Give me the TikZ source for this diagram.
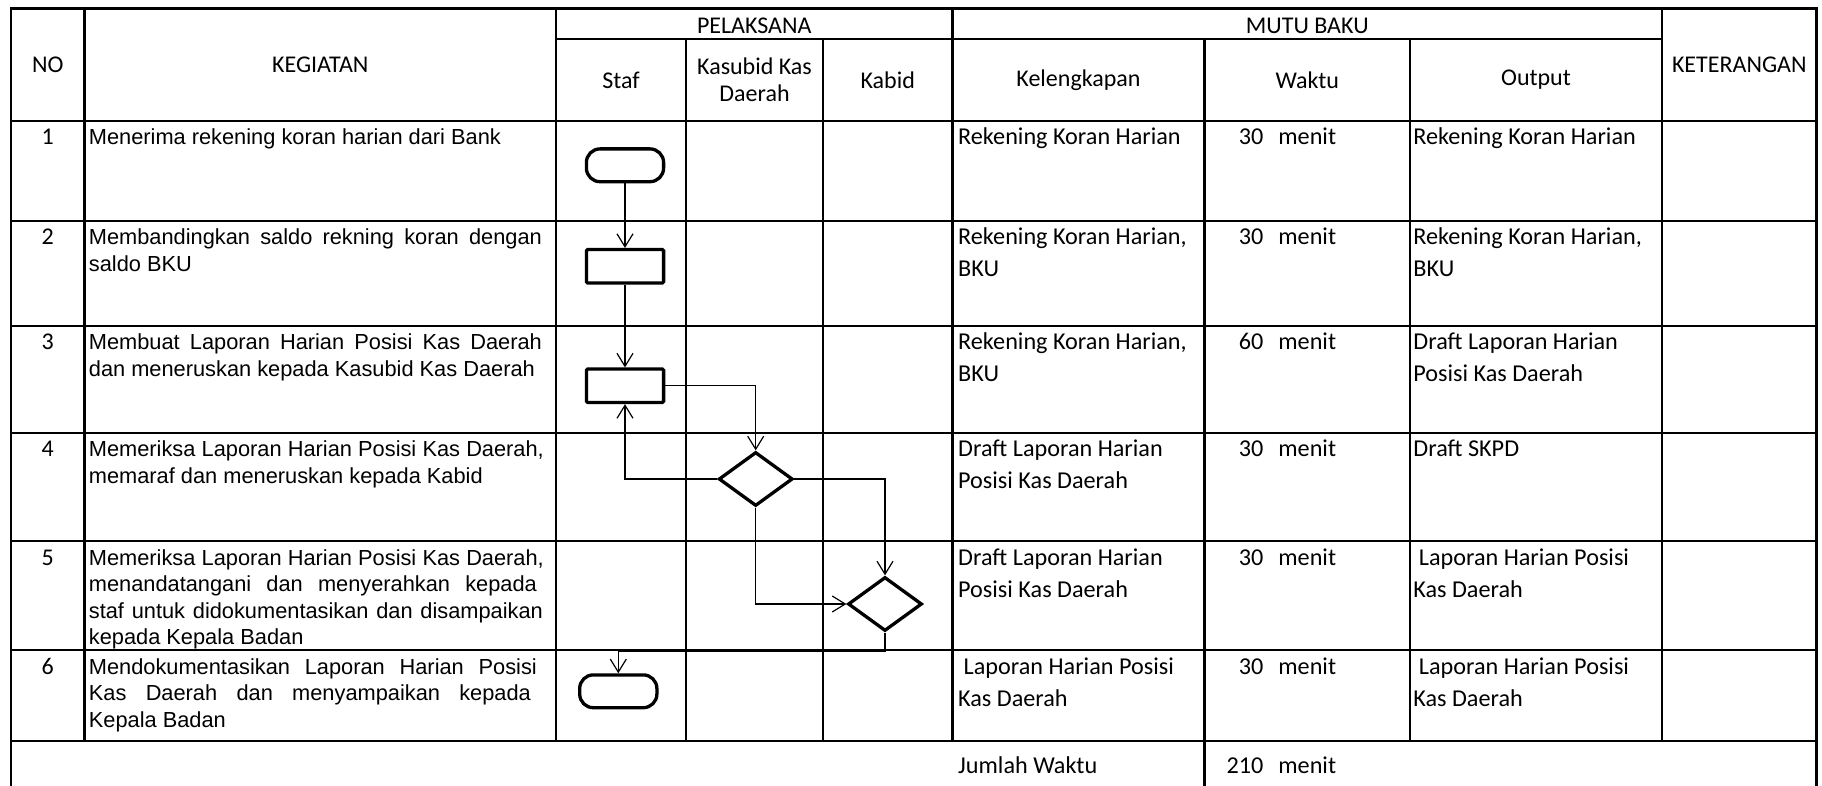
\documentclass[tikz,border=0pt]{standalone}
\usepackage{fontspec}
\setmainfont{Liberation Sans}
\newfontfamily\calfont{Carlito}
\usetikzlibrary{shapes.geometric,arrows.meta}

% a justified line of the given width: the word spaces share the slack
\newcommand\jl[2]{\leavevmode\hbox to #1{\spaceskip=\fontdimen2\font plus 1fil\relax #2}}

\tikzset{
  natural spaces/.style={execute at begin node={\spaceskip=0pt\xspaceskip=0pt\relax}},
  tabline/.style={line width=1.15pt, line cap=rect},
  hdr/.style={font=\calfont\fontsize{12pt}{13.5pt}\selectfont, inner sep=0pt, align=center, natural spaces},
  num/.style={font=\calfont\fontsize{12pt}{16pt}\selectfont, inner sep=0pt, anchor=base},
  act/.style={font=\fontsize{10.9pt}{13.3pt}\selectfont, inner sep=0pt, anchor=base west, text width=232pt, natural spaces},
  cal/.style={font=\calfont\fontsize{12.1pt}{16pt}\selectfont, inner sep=0pt, anchor=base west, text width=120pt, natural spaces},
  wkt/.style={font=\calfont\fontsize{12.1pt}{16pt}\selectfont, inner sep=0pt, anchor=base west},
  term/.style={draw, line width=1.65pt, rounded corners=6.8pt, minimum width=38.6pt, minimum height=16.4pt, inner sep=0pt},
  proc/.style={draw, line width=1.65pt, rounded corners=0.6pt, minimum width=38.6pt, minimum height=16.7pt, inner sep=0pt},
  dec/.style={draw, diamond, line width=1.65pt, minimum width=37pt, minimum height=27pt, inner sep=0pt},
  conn/.style={line width=0.6pt, -{Straight Barb[length=6.5pt,width=8pt]}},
}

\begin{document}
\begin{tikzpicture}[x=0.5pt,y=-0.5pt]
\useasboundingbox (0,0) rectangle (1822,786);
\fill[white] (0,0) rectangle (1822,786);

% table rules
\draw[tabline] (11,8.5) -- (1816.5,8.5);
\draw[tabline] (556,39.3) -- (1662,39.3);
\foreach \y in {121,220.7,325.7,432.7,541,650,741}
  \draw[tabline] (11,\y) -- (1816.5,\y);
\foreach \x in {11,1816.5}
  \draw[tabline] (\x,8.5) -- (\x,786);
\draw[tabline] (1204.5,39.3) -- (1204.5,786);
\foreach \x in {84.5,556,952.5,1662}
  \draw[tabline] (\x,8.5) -- (\x,741);
\foreach \x in {686,823,1410}
  \draw[tabline] (\x,39.3) -- (\x,741);

% header
\node[hdr] (hno)  at (47.75,64.5)  {NO};
\node[hdr] (hkeg) at (320.25,64.5) {KEGIATAN};
\node[hdr] (hpel) at (754.25,26)   {PELAKSANA};
\node[hdr] (hmut) at (1307.25,26)  {MUTU BAKU};
\node[hdr] (hket) at (1739.25,64.5) {KETERANGAN};
\node[hdr] (hsta) at (621,80)      {Staf};
\node[hdr] (hkas) at (754.5,80)    {Kasubid Kas\\Daerah};
\node[hdr] (hkab) at (887.75,80)   {Kabid};
\node[hdr] (hkel) at (1078.5,80)   {Kelengkapan};
\node[hdr] (hwak) at (1307.25,80)  {Waktu};
\node[hdr] (hout) at (1536,80)     {Output};

% row numbers
\node[num] (n1) at (47.75,145)   {1};
\node[num] (n2) at (47.75,244.7) {2};
\node[num] (n3) at (47.75,349.7) {3};
\node[num] (n4) at (47.75,456.7) {4};
\node[num] (n5) at (47.75,565)   {5};
\node[num] (n6) at (47.75,674)   {6};

% activities
\node[act] (k1) at (88.5,145) {Menerima rekening koran harian dari Bank};
\node[act] (k2) at (88.5,244.7) {\jl{226.5pt}{Membandingkan saldo rekning koran dengan}\\saldo BKU};
\node[act] (k3) at (88.5,349.7) {\jl{226.5pt}{Membuat Laporan Harian Posisi Kas Daerah}\\dan meneruskan kepada Kasubid Kas Daerah};
\node[act] (k4) at (88.5,456.7) {\jl{227.5pt}{Memeriksa Laporan Harian Posisi Kas Daerah,}\\memaraf dan meneruskan kepada Kabid};
\node[act] (k5) at (88.5,565) {\jl{227.5pt}{Memeriksa Laporan Harian Posisi Kas Daerah,}\\\jl{224pt}{menandatangani dan menyerahkan kepada}\\\jl{227pt}{staf untuk didokumentasikan dan disampaikan}\\kepada Kepala Badan};
\node[act] (k6) at (88.5,674) {\jl{224pt}{Mendokumentasikan Laporan Harian Posisi}\\\jl{221pt}{Kas Daerah dan menyampaikan kepada}\\Kepala Badan};

% kelengkapan
\node[cal] (l1) at (957.8,145)   {Rekening Koran Harian};
\node[cal] (l2) at (957.8,244.7) {Rekening Koran Harian,\\BKU};
\node[cal] (l3) at (957.8,349.7) {Rekening Koran Harian,\\BKU};
\node[cal] (l4) at (957.8,456.7) {Draft Laporan Harian\\Posisi Kas Daerah};
\node[cal] (l5) at (957.8,565)   {Draft Laporan Harian\\Posisi Kas Daerah};
\node[cal] (l6) at (957.8,674)   {\ Laporan Harian Posisi\\Kas Daerah};

% waktu
\node[wkt] (w1) at (1263,145)   {\llap{30}\hspace{7.5pt}menit};
\node[wkt] (w2) at (1263,244.7) {\llap{30}\hspace{7.5pt}menit};
\node[wkt] (w3) at (1263,349.7) {\llap{60}\hspace{7.5pt}menit};
\node[wkt] (w4) at (1263,456.7) {\llap{30}\hspace{7.5pt}menit};
\node[wkt] (w5) at (1263,565)   {\llap{30}\hspace{7.5pt}menit};
\node[wkt] (w6) at (1263,674)   {\llap{30}\hspace{7.5pt}menit};

% output
\node[cal] (o1) at (1413,145)   {Rekening Koran Harian};
\node[cal] (o2) at (1413,244.7) {Rekening Koran Harian,\\BKU};
\node[cal] (o3) at (1413,349.7) {Draft Laporan Harian\\Posisi Kas Daerah};
\node[cal] (o4) at (1413,456.7) {Draft SKPD};
\node[cal] (o5) at (1413,565)   {\ Laporan Harian Posisi\\Kas Daerah};
\node[cal] (o6) at (1413,674)   {\ Laporan Harian Posisi\\Kas Daerah};

% total
\node[cal] (jw) at (957.8,773) {Jumlah Waktu};
\node[wkt] (jt) at (1263,773)  {\llap{210}\hspace{7.5pt}menit};

% flow symbols
\node[term] (t1) at (625,165.3) {};
\node[proc] (p2) at (625,266.3) {};
\node[proc] (p3) at (625,385.8) {};
\node[dec]  (d1) at (755.7,479) {};
\node[dec]  (d2) at (885,604)   {};
\node[term] (t2) at (618.3,691.3) {};

% flow connectors
\draw[conn] (t1.south) -- (p2.north);
\draw[conn] (p2.south) -- (p3.north);
\draw[conn] (p3.east) -| (d1.north);
\draw[conn] (d1.west) -| (p3.south);
\draw[conn] (d1.east) -| (d2.north);
\draw[conn] (d1.south) |- (d2.west);
\coordinate (bend) at (885,651.5);
\draw[conn] (d2.south) -- (bend) -| (t2.north);
\end{tikzpicture}
\end{document}
